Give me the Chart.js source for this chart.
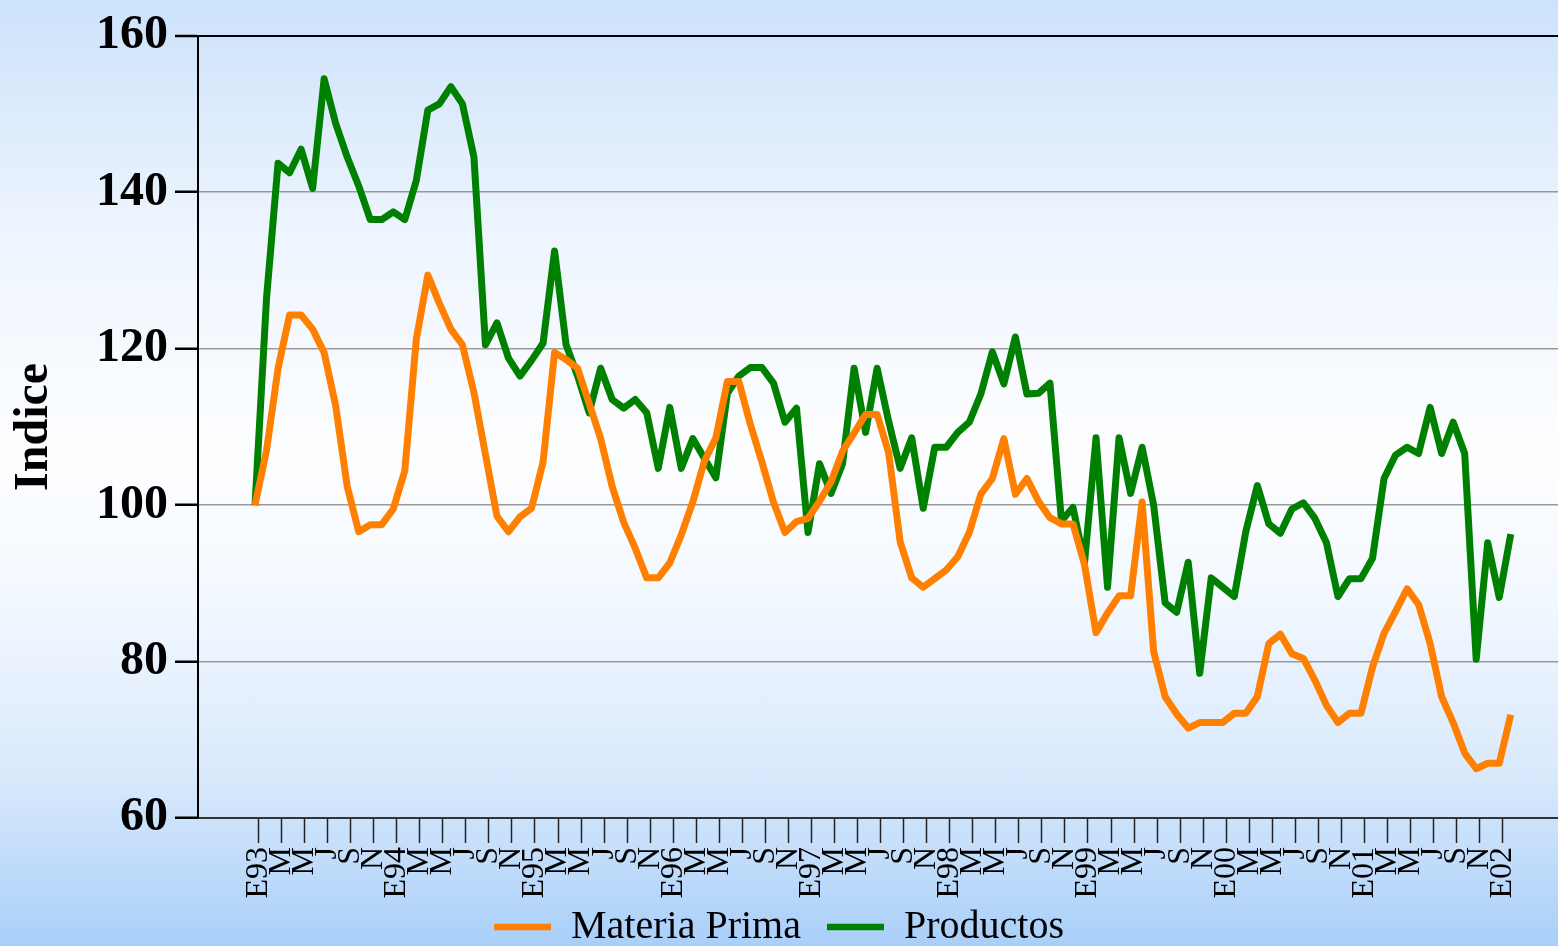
<!DOCTYPE html>
<html>
<head>
<meta charset="utf-8">
<script src="https://cdn.jsdelivr.net/npm/chart.js@4"></script>
<style>
  html, body { margin: 0; padding: 0; }
  body {
    width: 1558px;
    height: 946px;
    overflow: hidden;
    background: linear-gradient(to bottom, #cde2fb 0%, #eef5fe 25%, #fdfeff 48%, #f4f9ff 62%, #d9e9fc 82%, #a9cff9 100%);
  }
  #wrap { position: relative; width: 1558px; height: 946px; }
</style>
</head>
<body>
<div id="wrap"><canvas id="chart"></canvas></div>
<script>
/* ============================= */
/* DATA (monthly, E93 .. F02)    */
/* ============================= */

const tickLabels = [
  "E93", "M", "M", "J", "S", "N",
  "E94", "M", "M", "J", "S", "N",
  "E95", "M", "M", "J", "S", "N",
  "E96", "M", "M", "J", "S", "N",
  "E97", "M", "M", "J", "S", "N",
  "E98", "M", "M", "J", "S", "N",
  "E99", "M", "M", "J", "S", "N",
  "E00", "M", "M", "J", "S", "N",
  "E01", "M", "M", "J", "S", "N",
  "E02"
];

const yTicks = [60, 80, 100, 120, 140, 160];

const materiaPrima = [
  100, 107, 117.5, 124.3, 124.3, 122.5, 119.5, 112.7, 102.4, 96.6, 97.5, 97.5,
  99.5, 104.4, 121.2, 129.4, 125.8, 122.5, 120.5, 114.4, 106.5, 98.6, 96.6, 98.5,
  99.6, 105.5, 119.5, 118.6, 117.5, 113, 108.5, 102.4, 97.8, 94.5, 90.7, 90.7,
  92.6, 96.2, 100.4, 105.6, 108.6, 115.8, 115.8, 110.3, 105.5, 100.4, 96.5, 97.9,
  98.3, 100.5, 103, 106.9, 109.2, 111.6, 111.6, 106.7, 95.3, 90.7, 89.5, 90.6,
  91.7, 93.4, 96.5, 101.4, 103.4, 108.5, 101.4, 103.4, 100.5, 98.4, 97.6, 97.6,
  92.4, 83.7, 86.2, 88.4, 88.4, 100.4, 81.3, 75.5, 73.3, 71.5, 72.2, 72.2,
  72.2, 73.4, 73.4, 75.5, 82.3, 83.5, 81, 80.4, 77.6, 74.4, 72.2, 73.4,
  73.4, 79.3, 83.6, 86.4, 89.3, 87.3, 82.3, 75.5, 72.2, 68.3, 66.3, 67,
  67, 73.2
];

const productos = [
  100, 126.5, 143.7, 142.5, 145.5, 140.5, 154.5, 148.8, 144.5, 140.8, 136.5, 136.5,
  137.5, 136.5, 141.5, 150.5, 151.3, 153.5, 151.3, 144.5, 120.5, 123.3, 118.8, 116.5,
  118.5, 120.7, 132.5, 120.5, 116.5, 111.8, 117.5, 113.5, 112.4, 113.5, 111.8, 104.7,
  112.5, 104.7, 108.5, 106, 103.5, 114.3, 116.5, 117.6, 117.6, 115.6, 110.6, 112.4,
  96.5, 105.3, 101.5, 105.3, 117.5, 109.3, 117.5, 110.7, 104.7, 108.6, 99.6, 107.4,
  107.4, 109.3, 110.6, 114.2, 119.6, 115.5, 121.5, 114.2, 114.3, 115.6, 98, 99.7,
  92.6, 108.6, 89.5, 108.6, 101.5, 107.4, 100, 87.5, 86.3, 92.7, 78.5, 90.7,
  89.5, 88.3, 96.6, 102.5, 97.6, 96.4, 99.5, 100.3, 98.3, 95.2, 88.3, 90.6,
  90.6, 93.2, 103.4, 106.4, 107.4, 106.6, 112.5, 106.6, 110.6, 106.6, 80.3, 95.2,
  88.2, 96.3
];

/* ============================= */
/* CHART                         */
/* ============================= */

const serif = "'Liberation Serif', 'Times New Roman', serif";

function toPoints(values) {
  return values.map((v, i) => ({ x: i, y: v }));
}

function lineDataset(label, values, color) {
  return {
    label: label,
    data: toPoints(values),
    borderColor: color,
    backgroundColor: color,
    borderWidth: 7,
    pointRadius: 0,
    pointHoverRadius: 0,
    pointBorderWidth: 6.5,
    borderJoinStyle: "round",
    tension: 0,
  };
}

new Chart(document.getElementById("chart"), {
  type: "line",
  data: {
    datasets: [
      lineDataset("Materia Prima", materiaPrima, "#ff8000"),
      lineDataset("Productos", productos, "#008000"),
    ],
  },
  options: {
    responsive: true,
    maintainAspectRatio: false,
    animation: false,
    events: [],
    layout: { padding: { top: 35, left: 0, right: 0, bottom: 0 } },
    plugins: {
      tooltip: { enabled: false },
      legend: {
        position: "bottom",
        maxHeight: 65,
        labels: {
          usePointStyle: true,
          pointStyle: "line",
          pointStyleWidth: 57,
          padding: 26,
          color: "#000",
          font: { family: serif, size: 40 },
        },
      },
    },
    scales: {
      x: {
        type: "linear",
        min: -4.95,
        max: 113.1,
        afterBuildTicks: (scale) => {
          scale.ticks = tickLabels.map((t, k) => ({ value: k * 2 + 0.3 }));
        },
        afterFit: (scale) => {
          scale.height = 63;
          // labels hang below the axis box, into the legend band
          scale._computeLabelArea = () => undefined;
        },
        grid: {
          drawOnChartArea: false,
          drawTicks: true,
          tickLength: 25,
          tickColor: "#222",
          tickWidth: 1.5,
        },
        border: { color: "#333", width: 2 },
        ticks: {
          autoSkip: false,
          minRotation: 90,
          maxRotation: 90,
          padding: 4,
          color: "#000",
          font: { family: serif, size: 32 },
          callback: (value, index) => tickLabels[index],
        },
      },
      y: {
        min: 60,
        max: 160,
        afterBuildTicks: (scale) => {
          scale.ticks = yTicks.map((v) => ({ value: v }));
        },
        afterFit: (scale) => {
          scale.width = 198;
        },
        grid: {
          color: (ctx) => (ctx.tick && ctx.tick.value === 160 ? "#000" : "#999"),
          lineWidth: (ctx) => (ctx.tick && ctx.tick.value === 160 ? 2 : 1.5),
          tickColor: "#000",
          tickLength: 23,
          tickWidth: 2.5,
        },
        border: { color: "#000", width: 2 },
        ticks: {
          padding: 7,
          color: "#000",
          font: { family: serif, size: 48, weight: "bold" },
        },
        title: {
          display: true,
          text: "Indice",
          color: "#000",
          padding: { top: 6, bottom: 0 },
          font: { family: serif, size: 48, weight: "bold" },
        },
      },
    },
  },
});
</script>
</body>
</html>
